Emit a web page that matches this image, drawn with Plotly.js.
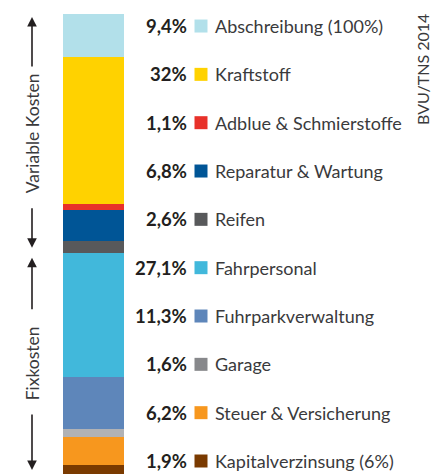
<!DOCTYPE html>
<html><head><meta charset="utf-8">
<script src="https://cdn.plot.ly/plotly-3.0.1.min.js"></script>
<style>html,body{margin:0;padding:0;background:#fff}#chart{width:432px;height:476px}</style>
</head><body><div id="chart"></div>
<script>
// Categories listed bottom -> top of the stacked bar
const categories = ["Kapitalverzinsung (6%)", "Steuer & Versicherung", "Garage", "Fuhrparkverwaltung", "Fahrpersonal",
  "Reifen", "Reparatur & Wartung", "Adblue & Schmierstoffe", "Kraftstoff", "Abschreibung (100%)"];
const values = [1.9, 6.2, 1.6, 11.3, 27.1, 2.6, 6.8, 1.1, 32, 9.4];
const percentLabels = ["1,9%", "6,2%", "1,6%", "11,3%", "27,1%", "2,6%", "6,8%", "1,1%", "32%", "9,4%"];
const isVariable = [false, false, false, false, false, true, true, true, true, true];
const barColors = ["#7A3A00", "#F7971E", "#B1B2B5", "#5E86BA", "#41B8DB", "#58595B", "#005596", "#E8312A", "#FFD200", "#B2E0EA"];
const keyColors = ["#7A3A00", "#F7971E", "#87888B", "#5E86BA", "#41B8DB", "#58595B", "#005596", "#E8312A", "#FFD200", "#B2E0EA"];
const groupLabels = ["Variable Kosten", "Fixkosten"];
const sourceLabel = "BVU/TNS 2014";

const FONT = "Lato, 'DejaVu Sans', sans-serif";
const traces = categories.map((c, i) => ({
  type: "bar", x: [0], y: [values[i]], name: c, width: 1,
  marker: {color: barColors[i], line: {width: 0}},
  xaxis: "x", yaxis: "y", showlegend: false, hoverinfo: "skip"
}));
const idx = categories.map((c, i) => i);
traces.push({
  type: "scatter", mode: "markers", x: idx.map(() => 201), y: idx,
  marker: {symbol: "square", size: 13, color: keyColors, line: {width: 0}},
  xaxis: "x2", yaxis: "y2", showlegend: false, hoverinfo: "skip"
});

const variableSum = values.reduce((s, v, i) => s + (isVariable[i] ? v : 0), 0);
const total = values.reduce((s, v) => s + v, 0);
const fixedSum = total - variableSum;

const annotations = [];
categories.forEach((c, i) => {
  annotations.push({xref: "x2", yref: "y2", x: 189, y: i, text: "<b>" + percentLabels[i] + "</b>",
    xanchor: "right", yanchor: "middle", showarrow: false, font: {family: FONT, size: 18.5, color: "#231F20"}});
  annotations.push({xref: "x2", yref: "y2", x: 213, y: i, text: c,
    xanchor: "left", yanchor: "middle", showarrow: false, font: {family: FONT, size: 18, color: "#3A3A3C"}});
});
const lx = 32 / 432;
// group labels
annotations.push({xref: "paper", yref: "y", x: lx, y: total - variableSum / 2, text: groupLabels[0], textangle: -90,
  showarrow: false, xanchor: "center", yanchor: "middle", font: {family: FONT, size: 17.5, color: "#3A3A3C"}});
annotations.push({xref: "paper", yref: "y", x: lx, y: fixedSum / 2, text: groupLabels[1], textangle: -90,
  showarrow: false, xanchor: "center", yanchor: "middle", font: {family: FONT, size: 17.5, color: "#3A3A3C"}});
// arrows
function arrow(yv, ay, standoff) {
  annotations.push({xref: "paper", yref: "y", x: lx, y: yv, ax: 0, ay: ay, text: "", showarrow: true,
    arrowhead: 2, arrowsize: 1.2, arrowwidth: 1.6, arrowcolor: "#231F20", standoff: standoff});
}
arrow(total, 54, 3);
arrow(fixedSum, -46, 5);
arrow(fixedSum, 58, 5);
arrow(0, -61, 4);
annotations.push({xref: "paper", yref: "paper", x: 422 / 432, y: 1 - 70 / 476, text: sourceLabel, textangle: -90,
  showarrow: false, xanchor: "center", yanchor: "middle", font: {family: FONT, size: 16, color: "#3A3A3C"}});

const layout = {
  width: 432, height: 476, margin: {l: 0, r: 0, t: 0, b: 0},
  paper_bgcolor: "#fff", plot_bgcolor: "rgba(0,0,0,0)", barmode: "stack",
  xaxis: {domain: [63 / 432, 124 / 432], range: [-0.5, 0.5], visible: false, fixedrange: true},
  yaxis: {domain: [2 / 476, 462 / 476], range: [0, total], visible: false, fixedrange: true},
  xaxis2: {domain: [0, 1], range: [0, 432], visible: false, anchor: "y2"},
  yaxis2: {domain: [0, 1], range: [-15 / 48.33, 461 / 48.33], visible: false, anchor: "x2"},
  annotations: annotations, showlegend: false
};
Plotly.newPlot("chart", traces, layout, {displayModeBar: false, staticPlot: true});
</script></body></html>
